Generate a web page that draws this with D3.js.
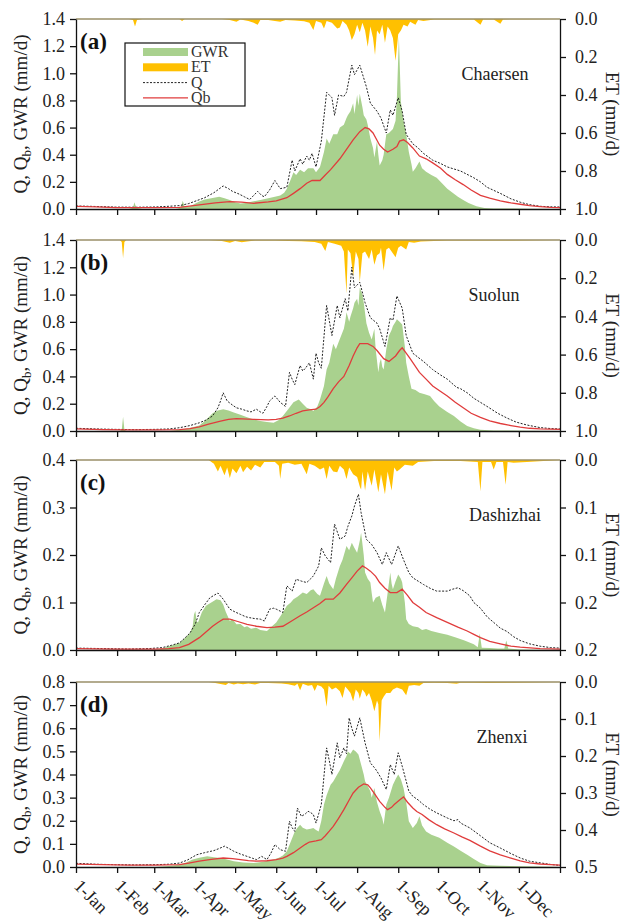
<!DOCTYPE html>
<html>
<head>
<meta charset="utf-8">
<script src="https://cdn.jsdelivr.net/npm/d3@7"></script>
<style>
  body { margin: 0; background: #fff; }
</style>
</head>
<body>
<script>
// x axis: day of year, ticks on first day of every month
let monthLabels = ['1-Jan', '1-Feb', '1-Mar', '1-Apr', '1-May', '1-Jun', '1-Jul', '1-Aug', '1-Sep', '1-Oct', '1-Nov', '1-Dec']
let monthDays = [0, 31, 59, 90, 120, 151, 181, 212, 243, 273, 304, 334]

let stations = ['Chaersen', 'Suolun', 'Dashizhai', 'Zhenxi']
let panelTags = ['(a)', '(b)', '(c)', '(d)']

let yTicksAB = [0, 0.2, 0.4, 0.6, 0.8, 1.0, 1.2, 1.4]
let yTicksC = [0, 0.1, 0.2, 0.3, 0.4]
let yTicksD = [0, 0.1, 0.2, 0.3, 0.4, 0.5, 0.6, 0.7, 0.8]
let etTicksAB = [0, 0.2, 0.4, 0.6, 0.8, 1.0]
let etTicksC = [0, 0.05, 0.1, 0.15, 0.2]
let etLabelsC = ['0.0', '0.1', '0.1', '0.2', '0.2']
let etTicksD = [0, 0.1, 0.2, 0.3, 0.4, 0.5]

// ---- (a) Chaersen : [day, mm/d]
let gwrA = [[0,0],[40,0],[43,0.01],[44,0.05],[45.5,0.01],[50,0],[75,0],[79,0.01],[80.5,0.06],[82,0.015],[86,0.02],[90,0.04],[93,0.055],[97,0.07],[102,0.08],[108,0.09],[112,0.08],[116,0.066],[120,0.05],[124,0.04],[128,0.045],[133,0.055],[139,0.066],[145,0.08],[150,0.09],[154,0.1],[157,0.12],[159,0.15],[162,0.22],[164,0.27],[166,0.25],[169,0.29],[172,0.27],[175,0.3],[179,0.3],[181,0.27],[184,0.31],[187,0.42],[189,0.52],[191,0.48],[194,0.55],[197,0.55],[199,0.6],[202,0.62],[204,0.67],[205,0.69],[207,0.72],[209,0.78],[210,0.7],[212,0.84],[213,0.76],[214,0.85],[216,0.75],[217,0.69],[219,0.66],[220,0.62],[222,0.52],[224,0.45],[225,0.38],[227,0.5],[228,0.4],[229,0.32],[231,0.36],[232,0.4],[234,0.55],[236,0.56],[239,0.59],[241,0.65],[242,0.82],[243.5,1.27],[245,0.79],[247,0.65],[249,0.55],[251,0.42],[253,0.33],[254,0.275],[256,0.3],[259,0.35],[261,0.3],[264,0.275],[268,0.25],[272,0.23],[276,0.19],[280,0.15],[284,0.12],[288,0.09],[292,0.066],[296,0.045],[302,0.02],[308,0.008],[315,0.004],[330,0.003],[340,0.002],[365,0]]
let etA = [[0,0],[40,0],[43,0.005],[44.5,0.04],[46,0.005],[50,0],[78,0],[80,0.01],[82,0],[110,0],[116,0.005],[121,0.015],[124,0.003],[130,0.01],[134,0.02],[137,0.03],[139,0.005],[145,0.005],[150,0.01],[154,0.015],[158,0.005],[165,0.008],[172,0.012],[176,0.02],[179,0.058],[181,0.01],[185,0.02],[187,0.05],[189,0.01],[193,0.02],[197,0.05],[199,0.045],[201,0.01],[204,0.03],[206,0.06],[208,0.11],[210,0.08],[212,0.03],[214,0.07],[216,0.02],[218,0.06],[220,0.146],[222,0.04],[224,0.1],[225.5,0.19],[227,0.06],[229,0.08],[231,0.03],[233,0.125],[235,0.04],[237,0.06],[239,0.1],[241,0.22],[243,0.08],[245,0.06],[247,0.03],[250,0.04],[252,0.015],[256,0.03],[258,0.005],[262,0.01],[270,0.003],[280,0.002],[290,0.002],[300,0.003],[305,0.03],[307,0.003],[315,0.002],[320,0.025],[322,0.002],[340,0.001],[365,0]]
let qA = [[0,0.022],[10,0.02],[20,0.017],[30,0.014],[45,0.013],[60,0.015],[70,0.02],[78,0.025],[85,0.04],[92,0.065],[97,0.083],[104,0.12],[111,0.17],[115,0.15],[118,0.13],[123,0.11],[127,0.09],[131,0.07],[134,0.1],[137,0.13],[140,0.1],[142,0.09],[146,0.14],[150,0.21],[154,0.15],[159,0.16],[163,0.36],[165,0.28],[169,0.37],[171,0.33],[174,0.39],[176,0.36],[178,0.41],[181,0.31],[185,0.5],[189,0.86],[193,0.82],[195,0.69],[198,0.84],[202,0.83],[204,0.86],[208,1.06],[210,0.99],[214,1.06],[219,0.9],[222,0.78],[227,0.72],[230,0.67],[234,0.56],[237,0.73],[239,0.69],[243,0.82],[246,0.72],[249,0.55],[254,0.48],[258,0.45],[262,0.41],[269,0.36],[275,0.335],[280,0.31],[285,0.295],[290,0.28],[300,0.23],[305,0.2],[310,0.16],[320,0.115],[328,0.075],[335,0.05],[342,0.032],[350,0.02],[358,0.016],[365,0.015]]
let qbA = [[0,0.02],[15,0.015],[30,0.01],[60,0.01],[78,0.012],[93,0.03],[105,0.045],[116,0.055],[125,0.05],[134,0.042],[145,0.052],[151,0.06],[159,0.083],[164,0.115],[169,0.15],[174,0.19],[178,0.21],[184,0.21],[188,0.25],[192,0.29],[199,0.37],[204,0.44],[209,0.51],[214,0.57],[218,0.6],[221,0.59],[224,0.56],[229,0.47],[232,0.44],[235,0.42],[239,0.44],[242,0.46],[244,0.5],[247,0.51],[250,0.49],[254,0.45],[259,0.39],[264,0.37],[269,0.34],[275,0.3],[280,0.255],[286,0.215],[292,0.18],[298,0.14],[305,0.1],[312,0.08],[320,0.06],[328,0.045],[335,0.035],[342,0.025],[350,0.018],[358,0.012],[365,0.01]]

// ---- (b) Suolun
let gwrB = [[0,0],[33,0],[34.5,0.01],[35.5,0.105],[36.5,0.01],[38,0],[70,0],[75,0.005],[78,0.01],[85,0.02],[93,0.04],[98,0.08],[103,0.13],[107,0.15],[111,0.16],[115,0.15],[119,0.135],[124,0.12],[129,0.1],[134,0.085],[139,0.073],[144,0.066],[149,0.06],[153,0.08],[156,0.11],[160,0.16],[164,0.21],[168,0.23],[171,0.2],[174,0.17],[177,0.16],[179,0.147],[182,0.18],[184,0.23],[187,0.33],[189,0.45],[191,0.5],[194,0.64],[196,0.6],[198,0.65],[200,0.7],[202,0.75],[203,0.8],[204,0.87],[206,0.8],[207,0.84],[209,0.9],[210,0.94],[212,0.97],[213,0.92],[214,1.05],[216,1.0],[217,0.94],[219,0.79],[221,0.72],[223,0.67],[225,0.75],[226,0.6],[228,0.43],[229,0.5],[230,0.53],[231,0.47],[232,0.45],[234,0.6],[236,0.7],[238,0.74],[239,0.77],[241,0.8],[242,0.82],[244,0.8],[246,0.78],[248,0.62],[249,0.5],[251,0.4],[253,0.31],[256,0.3],[259,0.28],[263,0.27],[267,0.257],[270,0.22],[274,0.18],[280,0.14],[285,0.11],[290,0.07],[295,0.037],[300,0.02],[305,0.01],[315,0.004],[340,0.002],[365,0]]
let etB = [[0,0],[33,0],[34.5,0.01],[35.5,0.094],[36.5,0.01],[38,0],[100,0],[110,0.005],[116,0.014],[120,0.005],[125,0.012],[129,0.008],[135,0.003],[150,0.003],[160,0.005],[170,0.006],[180,0.01],[185,0.02],[188,0.057],[190,0.01],[195,0.02],[200,0.03],[202,0.06],[204,0.28],[205,0.05],[207,0.07],[209,0.19],[211,0.06],[213,0.1],[214,0.22],[216,0.07],[218,0.06],[221,0.1],[223,0.05],[225,0.13],[227,0.08],[229,0.07],[230,0.04],[232,0.16],[234,0.05],[236,0.04],[238,0.06],[241,0.09],[243,0.04],[245,0.03],[249,0.05],[251,0.01],[255,0.015],[260,0.008],[270,0.005],[280,0.003],[300,0.002],[330,0.002],[365,0]]
let qB = [[0,0.02],[15,0.015],[30,0.012],[45,0.01],[60,0.012],[70,0.015],[78,0.024],[86,0.04],[93,0.06],[98,0.08],[103,0.11],[107,0.17],[109,0.22],[111,0.28],[114,0.22],[118,0.19],[121,0.17],[125,0.16],[129,0.147],[132,0.14],[136,0.16],[139,0.14],[141,0.13],[144,0.18],[146,0.22],[150,0.257],[154,0.21],[158,0.18],[161,0.43],[163,0.38],[165,0.34],[169,0.48],[171,0.44],[173,0.46],[176,0.5],[179,0.38],[181,0.57],[183,0.5],[185,0.46],[189,0.92],[193,0.7],[197,0.92],[199,0.83],[203,0.97],[205,0.88],[208,1.2],[210,1.05],[214,1.09],[218,0.94],[222,0.83],[227,0.79],[229,0.75],[233,0.62],[237,0.83],[239,0.81],[242,0.99],[246,0.9],[249,0.7],[254,0.57],[258,0.54],[262,0.51],[269,0.45],[275,0.41],[280,0.38],[287,0.32],[290,0.31],[295,0.28],[300,0.24],[305,0.21],[310,0.18],[318,0.13],[325,0.095],[332,0.065],[340,0.044],[350,0.025],[358,0.018],[365,0.015]]
let qbB = [[0,0.015],[20,0.01],[40,0.008],[60,0.008],[78,0.01],[86,0.018],[93,0.03],[100,0.05],[109,0.073],[115,0.085],[121,0.09],[134,0.085],[145,0.082],[151,0.085],[156,0.095],[161,0.11],[166,0.13],[171,0.147],[176,0.155],[181,0.16],[184,0.18],[187,0.21],[190,0.25],[194,0.31],[198,0.36],[202,0.4],[206,0.48],[209,0.55],[212,0.61],[214,0.64],[220,0.64],[224,0.62],[227,0.59],[232,0.53],[236,0.51],[241,0.55],[244,0.59],[246,0.61],[249,0.57],[252,0.53],[259,0.43],[264,0.38],[269,0.33],[275,0.29],[280,0.257],[286,0.21],[292,0.17],[298,0.13],[305,0.1],[312,0.075],[320,0.055],[328,0.04],[335,0.028],[342,0.02],[350,0.015],[365,0.012]]

// ---- (c) Dashizhai
let gwrC = [[0,0],[60,0],[65,0.003],[70,0.008],[75,0.012],[78,0.015],[82,0.025],[86,0.036],[88,0.05],[89,0.075],[90,0.082],[91,0.06],[92,0.058],[95,0.08],[98,0.093],[102,0.1],[106,0.107],[109,0.105],[111,0.096],[113,0.08],[116,0.061],[118,0.065],[121,0.054],[124,0.055],[127,0.048],[129,0.05],[132,0.045],[136,0.047],[139,0.042],[144,0.04],[147,0.048],[151,0.058],[155,0.075],[159,0.093],[162,0.1],[164,0.107],[167,0.112],[171,0.121],[174,0.118],[177,0.126],[179,0.128],[182,0.118],[184,0.114],[187,0.14],[189,0.156],[191,0.14],[194,0.128],[196,0.15],[199,0.177],[201,0.19],[204,0.219],[206,0.21],[208,0.226],[210,0.215],[212,0.205],[214,0.23],[215,0.247],[217,0.2],[218,0.163],[220,0.15],[222,0.142],[223,0.12],[224,0.1],[226,0.11],[229,0.114],[231,0.095],[233,0.079],[235,0.12],[237,0.163],[238,0.14],[239,0.128],[241,0.145],[243,0.159],[245,0.15],[246,0.142],[248,0.1],[249,0.065],[251,0.055],[254,0.05],[258,0.048],[261,0.042],[264,0.044],[268,0.04],[274,0.036],[280,0.032],[287,0.026],[293,0.02],[300,0.012],[303,0.006],[304.5,0.035],[306,0.005],[312,0.004],[318,0.003],[323,0.003],[324.5,0.02],[326,0.003],[335,0.001],[365,0]]
let etC = [[0,0],[100,0],[104,0.004],[107,0.012],[109,0.006],[112,0.016],[114,0.008],[116,0.019],[118,0.009],[121,0.014],[124,0.006],[126,0.013],[129,0.007],[132,0.011],[135,0.005],[139,0.008],[142,0.002],[150,0.002],[153,0.006],[154,0.02],[155.5,0.004],[160,0.003],[165,0.005],[170,0.004],[174,0.015],[176,0.004],[180,0.006],[184,0.01],[187,0.008],[189,0.02],[191,0.006],[194,0.012],[197,0.013],[199,0.006],[202,0.01],[204,0.02],[206,0.008],[209,0.015],[212,0.018],[214,0.028],[215,0.031],[216,0.012],[218,0.032],[220,0.012],[223,0.027],[225,0.01],[228,0.034],[230,0.015],[233,0.036],[235,0.012],[238,0.032],[240,0.008],[242,0.012],[244,0.01],[248,0.005],[254,0.006],[258,0.002],[270,0.001],[290,0.001],[303,0.002],[305,0.033],[306.5,0.002],[313,0.002],[315,0.01],[317,0.002],[322,0.002],[324,0.026],[325.5,0.002],[330,0.003],[340,0.002],[365,0]]
let qC = [[0,0.004],[20,0.003],[40,0.002],[55,0.003],[65,0.005],[72,0.01],[78,0.015],[82,0.025],[86,0.036],[90,0.055],[93,0.079],[97,0.095],[101,0.11],[104,0.115],[107,0.12],[111,0.107],[116,0.086],[120,0.08],[124,0.075],[128,0.07],[131,0.068],[135,0.066],[139,0.065],[142,0.061],[146,0.086],[149,0.088],[151,0.086],[156,0.079],[159,0.135],[161,0.13],[163,0.124],[166,0.149],[170,0.145],[174,0.142],[177,0.15],[179,0.156],[183,0.177],[185,0.215],[188,0.198],[192,0.184],[195,0.265],[199,0.233],[203,0.24],[205,0.26],[208,0.282],[210,0.303],[213,0.328],[215,0.289],[219,0.233],[223,0.222],[227,0.205],[231,0.18],[234,0.205],[238,0.18],[243,0.219],[247,0.19],[251,0.163],[254,0.152],[258,0.145],[262,0.138],[267,0.13],[272,0.124],[280,0.124],[284,0.128],[288,0.131],[292,0.125],[297,0.114],[300,0.1],[305,0.088],[310,0.07],[315,0.058],[320,0.046],[325,0.039],[330,0.028],[335,0.02],[342,0.013],[350,0.008],[358,0.005],[365,0.004]]
let qbC = [[0,0.003],[30,0.002],[60,0.002],[70,0.003],[78,0.005],[85,0.012],[93,0.026],[98,0.038],[103,0.05],[107,0.058],[111,0.065],[116,0.065],[122,0.06],[129,0.054],[136,0.05],[144,0.047],[150,0.048],[156,0.05],[162,0.06],[169,0.072],[174,0.08],[179,0.089],[184,0.098],[188,0.107],[194,0.107],[199,0.12],[204,0.138],[208,0.152],[212,0.166],[216,0.177],[219,0.172],[222,0.166],[226,0.155],[229,0.142],[233,0.13],[237,0.121],[242,0.121],[246,0.128],[250,0.115],[254,0.1],[259,0.09],[264,0.079],[272,0.068],[280,0.058],[288,0.048],[295,0.04],[300,0.033],[305,0.026],[312,0.018],[320,0.013],[328,0.008],[335,0.006],[350,0.003],[365,0.002]]

// ---- (d) Zhenxi
let gwrD = [[0,0],[60,0],[70,0.004],[78,0.01],[83,0.02],[88,0.032],[93,0.04],[99,0.046],[104,0.042],[109,0.039],[114,0.032],[119,0.025],[126,0.02],[134,0.017],[140,0.022],[145,0.028],[149,0.032],[153,0.04],[156,0.05],[159,0.068],[162,0.11],[165,0.154],[167,0.17],[169,0.183],[171,0.17],[174,0.162],[177,0.165],[179,0.169],[181,0.16],[183,0.154],[185,0.2],[187,0.27],[189,0.31],[192,0.356],[194,0.37],[197,0.4],[199,0.42],[202,0.457],[204,0.48],[205,0.5],[207,0.49],[209,0.508],[211,0.5],[213,0.486],[215,0.443],[217,0.4],[218,0.371],[220,0.35],[222,0.328],[223,0.3],[225,0.342],[227,0.28],[229,0.241],[231,0.21],[232,0.183],[234,0.27],[236,0.3],[239,0.356],[241,0.38],[243,0.4],[245,0.38],[247,0.342],[249,0.28],[251,0.198],[254,0.169],[257,0.19],[259,0.219],[261,0.18],[264,0.154],[268,0.14],[274,0.126],[280,0.105],[285,0.089],[290,0.07],[295,0.053],[300,0.035],[305,0.017],[310,0.008],[320,0.005],[335,0.003],[350,0.002],[365,0]]
let etD = [[0,0],[100,0],[105,0.003],[110,0.006],[113,0.008],[115,0.003],[119,0.007],[122,0.004],[126,0.006],[130,0.004],[135,0.007],[139,0.003],[145,0.003],[155,0.004],[160,0.006],[165,0.01],[167,0.005],[169,0.022],[171,0.005],[175,0.01],[178,0.008],[180,0.024],[182,0.008],[185,0.012],[187,0.02],[189,0.067],[190.5,0.01],[193,0.02],[196,0.015],[199,0.025],[201,0.043],[203,0.012],[205,0.02],[207,0.03],[209,0.052],[211,0.02],[213,0.03],[214,0.045],[216,0.02],[218,0.03],[219,0.04],[221,0.03],[223,0.05],[225,0.079],[227,0.05],[228,0.06],[229,0.16],[230.5,0.05],[232,0.04],[234,0.03],[237,0.03],[239,0.02],[242,0.015],[246,0.02],[249,0.036],[251,0.01],[255,0.008],[259,0.01],[262,0.003],[270,0.002],[280,0.003],[287,0.005],[290,0.002],[300,0.002],[310,0.003],[330,0.002],[365,0]]
let qD = [[0,0.016],[15,0.012],[30,0.01],[45,0.009],[60,0.01],[70,0.012],[78,0.017],[84,0.03],[91,0.053],[97,0.062],[104,0.071],[108,0.08],[112,0.09],[116,0.078],[119,0.068],[124,0.056],[129,0.046],[133,0.038],[136,0.032],[140,0.046],[144,0.032],[147,0.06],[150,0.097],[154,0.075],[158,0.068],[161,0.198],[163,0.17],[165,0.154],[167,0.255],[170,0.219],[173,0.23],[175,0.241],[177,0.235],[179,0.227],[181,0.19],[183,0.23],[185,0.27],[189,0.515],[191,0.46],[193,0.4],[197,0.537],[199,0.472],[202,0.515],[204,0.49],[206,0.645],[208,0.6],[210,0.566],[214,0.645],[218,0.537],[222,0.45],[225,0.43],[227,0.414],[230,0.385],[234,0.335],[237,0.443],[240,0.4],[243,0.494],[246,0.436],[251,0.328],[254,0.306],[258,0.29],[262,0.27],[267,0.25],[272,0.234],[280,0.212],[285,0.2],[288,0.205],[290,0.19],[297,0.169],[305,0.135],[312,0.105],[320,0.082],[328,0.058],[335,0.039],[342,0.025],[350,0.018],[358,0.011],[365,0.007]]
let qbD = [[0,0.012],[20,0.01],[40,0.008],[60,0.008],[78,0.01],[85,0.017],[93,0.025],[102,0.033],[111,0.039],[118,0.036],[124,0.032],[130,0.028],[136,0.025],[144,0.027],[151,0.032],[156,0.038],[159,0.046],[164,0.062],[169,0.082],[173,0.098],[176,0.108],[181,0.113],[185,0.118],[188,0.135],[191,0.155],[194,0.176],[198,0.21],[202,0.248],[206,0.29],[209,0.32],[213,0.345],[217,0.359],[220,0.355],[222,0.342],[226,0.31],[229,0.284],[233,0.258],[235,0.248],[238,0.258],[240,0.27],[244,0.29],[247,0.303],[250,0.28],[254,0.255],[257,0.24],[261,0.227],[266,0.205],[272,0.183],[278,0.165],[285,0.147],[291,0.13],[297,0.115],[305,0.09],[312,0.07],[320,0.052],[328,0.038],[335,0.026],[342,0.018],[350,0.013],[358,0.01],[365,0.008]]

let colors = { gwr: '#a9d18e', et: '#ffc000', q: '#222', qb: '#e03c3c' }
let serif = 'Liberation Serif, Times New Roman, DejaVu Serif, serif'

let width = 622
let height = 923
let left = 76, right = 560

let panels = [
    { top: 19, bottom: 209, yMax: 1.4, yTicks: yTicksAB, etMax: 1.0, etTicks: etTicksAB, etLabels: null, nameX: 495, gwr: gwrA, et: etA, q: qA, qb: qbA },
    { top: 240, bottom: 431, yMax: 1.4, yTicks: yTicksAB, etMax: 1.0, etTicks: etTicksAB, etLabels: null, nameX: 494, gwr: gwrB, et: etB, q: qB, qb: qbB },
    { top: 460, bottom: 650, yMax: 0.4, yTicks: yTicksC, etMax: 0.2, etTicks: etTicksC, etLabels: etLabelsC, nameX: 505, gwr: gwrC, et: etC, q: qC, qb: qbC },
    { top: 682, bottom: 867, yMax: 0.8, yTicks: yTicksD, etMax: 0.5, etTicks: etTicksD, etLabels: null, nameX: 502, gwr: gwrD, et: etD, q: qD, qb: qbD }
]

let svg = d3.select('body')
    .append('svg')
        .attr('width', width)
        .attr('height', height)
        .attr('font-family', serif)

let x = d3.scaleLinear().domain([0, 365]).range([left, right])

panels.forEach(function(p, i){
    let y = d3.scaleLinear().domain([0, p.yMax]).range([p.bottom, p.top])
    let yEt = d3.scaleLinear().domain([0, p.etMax]).range([p.top, p.bottom])
    let g = svg.append('g').attr('class', 'panel')

    let gwrArea = d3.area()
        .x(d => x(d[0]))
        .y0(p.bottom)
        .y1(d => y(d[1]))
    let etArea = d3.area()
        .x(d => x(d[0]))
        .y0(p.top)
        .y1(d => yEt(d[1]))
    let line = d3.line()
        .x(d => x(d[0]))
        .y(d => y(d[1]))

    g.append('path').attr('d', gwrArea(p.gwr)).attr('fill', colors.gwr)
    g.append('path').attr('d', etArea(p.et)).attr('fill', colors.et)
    // top frame edge under the ET series
    g.append('line')
        .attr('x1', left).attr('x2', right)
        .attr('y1', p.top).attr('y2', p.top)
        .attr('stroke', '#9a8f68').attr('stroke-width', 1.5)
    g.append('path').attr('d', line(p.q))
        .attr('fill', 'none').attr('stroke', colors.q)
        .attr('stroke-width', 1).attr('stroke-dasharray', '2,1.5')
    g.append('path').attr('d', line(p.qb))
        .attr('fill', 'none').attr('stroke', colors.qb)
        .attr('stroke-width', 1.3)

    // axes
    let yAxis = d3.axisLeft(y)
        .tickValues(p.yTicks)
        .tickFormat(d3.format('.1f'))
        .tickSize(6).tickSizeOuter(0).tickPadding(5)
    let etAxis = d3.axisRight(yEt)
        .tickValues(p.etTicks)
        .tickFormat((d, k) => p.etLabels ? p.etLabels[k] : d3.format('.1f')(d))
        .tickSize(6).tickSizeOuter(0).tickPadding(9)
    let xAxis = d3.axisBottom(x)
        .tickValues(monthDays.concat([365]))
        .tickFormat('')
        .tickSize(6).tickSizeOuter(0)

    let axes = [
        g.append('g').attr('transform', 'translate(' + left + ',0)').call(yAxis),
        g.append('g').attr('transform', 'translate(' + right + ',0)').call(etAxis),
        g.append('g').attr('transform', 'translate(0,' + p.bottom + ')').call(xAxis)
    ]
    axes.forEach(function(a){
        a.attr('font-family', serif).attr('font-size', 18)
        a.selectAll('path, line').attr('stroke', '#111').attr('stroke-width', 1.3)
        a.selectAll('text').attr('fill', '#222')
    })

    // axis titles
    let mid = (p.top + p.bottom) / 2
    let yt = g.append('text')
        .attr('transform', 'translate(27,' + mid + ') rotate(-90)')
        .attr('text-anchor', 'middle')
        .attr('font-size', 19)
        .attr('fill', '#222')
    yt.append('tspan').text('Q, Q')
    yt.append('tspan').attr('font-size', 13).attr('dy', 4).text('b')
    yt.append('tspan').attr('dy', -4).text(', GWR (mm/d)')

    g.append('text')
        .attr('transform', 'translate(606,' + mid + ') rotate(90)')
        .attr('text-anchor', 'middle')
        .attr('font-size', 19)
        .attr('fill', '#222')
        .text('ET (mm/d)')

    g.append('text')
        .attr('x', 80).attr('y', p.top + 30)
        .attr('font-size', 23).attr('font-weight', 'bold')
        .attr('fill', '#111')
        .text(panelTags[i])

    g.append('text')
        .attr('x', p.nameX).attr('y', p.top + 61)
        .attr('text-anchor', 'middle')
        .attr('font-size', 18)
        .attr('fill', '#222')
        .text(stations[i])
})

// rotated month labels under the last panel
let last = panels[panels.length - 1]
svg.append('g')
    .selectAll('text')
    .data(monthLabels)
    .enter()
    .append('text')
        .attr('transform', (d, i) => 'translate(' + (x(monthDays[i]) - 3) + ',' + (last.bottom + 20) + ') rotate(45)')
        .attr('font-size', 18)
        .attr('fill', '#222')
        .text(d => d)

// legend in panel (a)
let legend = svg.append('g').attr('transform', 'translate(125,43)')
legend.append('rect')
    .attr('width', 120).attr('height', 63)
    .attr('fill', '#fff').attr('stroke', '#111').attr('stroke-width', 1.2)
let items = ['GWR', 'ET', 'Q', 'Qb']
items.forEach(function(name, k){
    let cy = 9 + k * 15.3
    let row = legend.append('g')
    if (k < 2) {
        row.append('rect')
            .attr('x', 18).attr('y', cy - 4).attr('width', 45).attr('height', 8)
            .attr('fill', k === 0 ? colors.gwr : colors.et)
    } else {
        row.append('line')
            .attr('x1', 18).attr('x2', 63).attr('y1', cy).attr('y2', cy)
            .attr('stroke', k === 2 ? colors.q : colors.qb)
            .attr('stroke-width', k === 2 ? 1 : 1.3)
            .attr('stroke-dasharray', k === 2 ? '2,1.5' : null)
    }
    row.append('text')
        .attr('x', 66).attr('y', cy + 5)
        .attr('font-size', 16)
        .attr('fill', '#333')
        .text(name)
})
</script>
</body>
</html>
